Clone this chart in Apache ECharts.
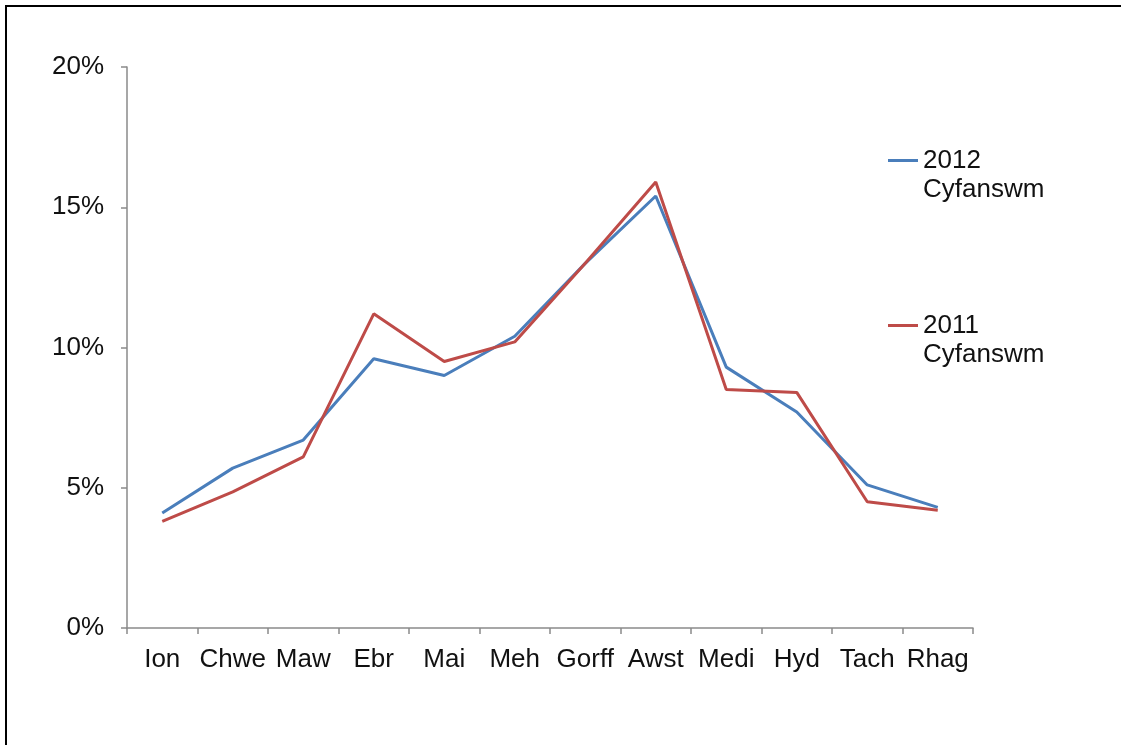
<!DOCTYPE html>
<html>
<head>
<meta charset="utf-8">
<script src="https://cdn.jsdelivr.net/npm/echarts@6/dist/echarts.min.js"></script>
<style>
  html, body { margin: 0; padding: 0; background: #fff; overflow: hidden; width: 1121px; height: 745px; }
  #chart { position: absolute; left: 0; top: 0; width: 1121px; height: 745px; }
  .edge { position: absolute; background: #000; pointer-events: none; }
  #edgeTop { left: 5px; top: 5px; width: 1116px; height: 2px; }
  #edgeLeft { left: 5px; top: 5px; width: 2px; height: 740px; }
</style>
</head>
<body>
<div id="chart"></div>
<div class="edge" id="edgeTop"></div>
<div class="edge" id="edgeLeft"></div>
<script>
const categories = ['Ion', 'Chwe', 'Maw', 'Ebr', 'Mai', 'Meh', 'Gorff', 'Awst', 'Medi', 'Hyd', 'Tach', 'Rhag'];
const series2012 = [4.1, 5.7, 6.7, 9.6, 9.0, 10.4, 13.0, 15.4, 9.3, 7.7, 5.1, 4.3];
const series2011 = [3.8, 4.85, 6.1, 11.2, 9.5, 10.2, 13.0, 15.9, 8.5, 8.4, 4.5, 4.2];
const seriesNames = ['2012 Cyfanswm', '2011 Cyfanswm'];
const yTicks = [0, 5, 10, 15, 20];

const FONT = '"Liberation Sans", Arial, sans-serif';
const chart = echarts.init(document.getElementById('chart'), null, { renderer: 'canvas' });
chart.setOption({
  backgroundColor: '#ffffff',
  animation: false,
  grid: { left: 127, right: 148, top: 67, bottom: 117, containLabel: false },
  legend: {
    orient: 'vertical',
    left: 888,
    top: 117,
    padding: 0,
    itemGap: 78,
    itemWidth: 30,
    itemHeight: 3,
    icon: 'rect',
    data: seriesNames,
    formatter: function (name) { return '\n' + name.replace(' ', '\n'); },
    textStyle: { fontFamily: FONT, fontSize: 26, color: '#111', lineHeight: 29 }
  },
  xAxis: {
    type: 'category',
    data: categories,
    boundaryGap: true,
    axisLine: { lineStyle: { color: '#8a8a8a', width: 1.5 } },
    axisTick: { show: true, length: 6, alignWithLabel: false, lineStyle: { color: '#8a8a8a', width: 1.5 } },
    axisLabel: { fontFamily: FONT, fontSize: 26, color: '#111', margin: 19, interval: 0 },
    splitLine: { show: false }
  },
  yAxis: {
    type: 'value',
    min: yTicks[0],
    max: yTicks[yTicks.length - 1],
    interval: yTicks[1] - yTicks[0],
    axisLine: { show: true, lineStyle: { color: '#8a8a8a', width: 1.5 } },
    axisTick: { show: true, length: 6, lineStyle: { color: '#8a8a8a', width: 1.5 } },
    axisLabel: { fontFamily: FONT, fontSize: 26, color: '#111', margin: 23, formatter: '{value}%' },
    splitLine: { show: false }
  },
  series: [
    {
      name: seriesNames[0],
      type: 'line',
      data: series2012,
      symbol: 'none',
      color: '#4A7EBB',
      lineStyle: { color: '#4A7EBB', width: 3 },
      z: 2
    },
    {
      name: seriesNames[1],
      type: 'line',
      data: series2011,
      symbol: 'none',
      color: '#BE4B48',
      lineStyle: { color: '#BE4B48', width: 3 },
      z: 3
    }
  ]
});
</script>
</body>
</html>
